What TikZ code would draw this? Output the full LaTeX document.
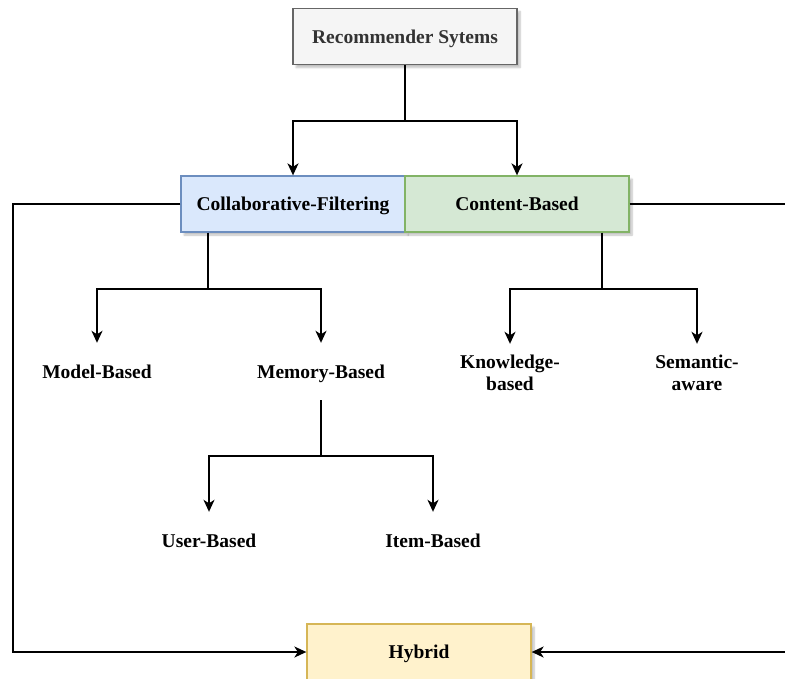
\documentclass[tikz,border=0pt]{standalone}
\usepackage{fontspec}
\setmainfont{Liberation Serif}
\usetikzlibrary{arrows.meta,shadows.blur,calc}

\definecolor{greyfill}{HTML}{F5F5F5}
\definecolor{greyline}{HTML}{666666}
\definecolor{greytext}{HTML}{333333}
\definecolor{bluefill}{HTML}{DAE8FC}
\definecolor{blueline}{HTML}{6C8EBF}
\definecolor{greenfill}{HTML}{D5E8D4}
\definecolor{greenline}{HTML}{82B366}
\definecolor{yellowfill}{HTML}{FFF2CC}
\definecolor{yellowline}{HTML}{D6B656}

\tikzset{
  oneline/.style={text height=18pt, text depth=5pt},
  box/.style={draw, line width=1.3pt, minimum width=224pt, minimum height=56pt,
    inner sep=0pt, oneline, font=\fontsize{19.5}{22}\selectfont\bfseries,
    blur shadow={shadow xshift=3pt, shadow yshift=-3pt, shadow blur steps=6, shadow opacity=25}},
  txt/.style={minimum width=110pt, minimum height=57pt, inner sep=0pt,
    align=center, font=\fontsize{19.5}{22}\selectfont\bfseries},
  arr/.style={line width=1.8pt, -{Stealth[length=12pt,width=11pt,inset=3.5pt]}},
  link/.style={line width=1.8pt}
}

\begin{document}
\begin{tikzpicture}[x=1pt, y=-1pt]
  \useasboundingbox (0,0) rectangle (785,678);
  \clip (0,0) rectangle (785,678);

  % boxes
  \node[box, fill=greyfill, draw=greyline, text=greytext] (rec) at (405,36.5) {Recommender Sytems};
  \node[box, fill=bluefill, draw=blueline] (cf) at (293,204) {Collaborative-Filtering};
  \node[box, fill=greenfill, draw=greenline] (cb) at (517,204) {Content-Based};
  \node[box, fill=yellowfill, draw=yellowline] (hyb) at (419,652) {Hybrid};

  % plain text labels
  \node[txt, oneline] (model)  at (97,371.5)  {Model-Based};
  \node[txt, oneline] (memory) at (321,371.5) {Memory-Based};
  \node[txt] (know)   at (510,372.5) {Knowledge-\\based};
  \node[txt] (sem)    at (697,372.5) {Semantic-\\aware};
  \node[txt, oneline] (user)   at (209,540.5) {User-Based};
  \node[txt, oneline] (item)   at (433,540.5) {Item-Based};

  % stem start points and junctions
  \coordinate (s1) at ($(cf.south west)+(28,0)$);
  \coordinate (s2) at ($(cb.south east)+(-28,0)$);
  \coordinate (j0) at ($(rec.south)+(0,56)$);
  \coordinate (j1) at ($(s1)+(0,56)$);
  \coordinate (j2) at ($(s2)+(0,56)$);
  \coordinate (j3) at ($(memory.south)+(0,56)$);
  \coordinate (lc) at (13,204);
  \coordinate (rc) at (800,204);

  % top split
  \draw[link] (rec.south) -- (j0);
  \draw[arr] (j0) -| (cf.north);
  \draw[arr] (j0) -| (cb.north);

  % collaborative filtering branch
  \draw[link] (s1) -- (j1);
  \draw[arr] (j1) -| (model.north);
  \draw[arr] (j1) -| (memory.north);

  % content based branch
  \draw[link] (s2) -- (j2);
  \draw[arr] (j2) -| (know.north);
  \draw[arr] (j2) -| (sem.north);

  % memory based branch
  \draw[link] (memory.south) -- (j3);
  \draw[arr] (j3) -| (user.north);
  \draw[arr] (j3) -| (item.north);

  % loops into hybrid
  \draw[arr] (cf.west) -- (lc) |- (hyb.west);
  \draw[arr] (cb.east) -- (rc) |- (hyb.east);
\end{tikzpicture}
\end{document}
